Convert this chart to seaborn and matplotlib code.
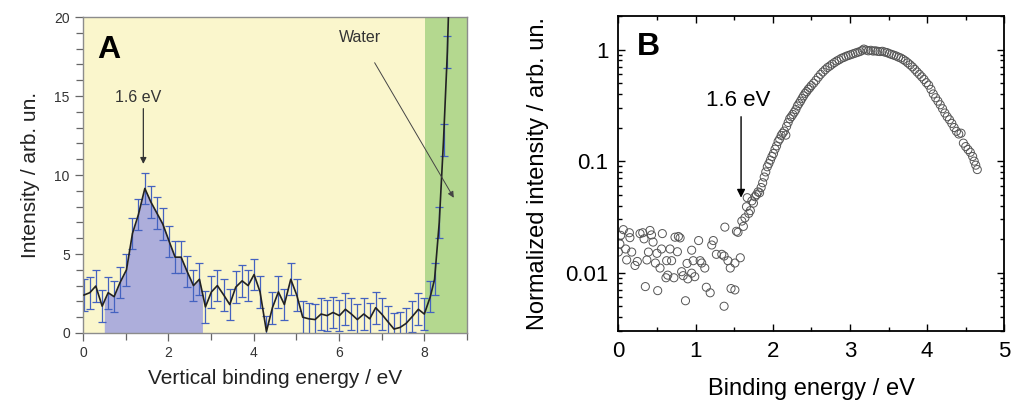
import numpy as np
import matplotlib
matplotlib.use("Agg")
import matplotlib.pyplot as plt
from matplotlib.ticker import MultipleLocator, NullFormatter
import seaborn as sns

# panel A: photoelectron spectrum with error bars
energy_a = [0.02, 0.16, 0.30, 0.45, 0.59, 0.73, 0.87, 1.02, 1.16, 1.30,
            1.45, 1.59, 1.73, 1.87, 2.02, 2.16, 2.30, 2.44, 2.59, 2.73,
            2.87, 3.01, 3.15, 3.30, 3.44, 3.58, 3.73, 3.87, 4.01, 4.15,
            4.30, 4.44, 4.58, 4.72, 4.87, 5.01, 5.15, 5.29, 5.44, 5.58,
            5.72, 5.86, 6.01, 6.15, 6.29, 6.43, 6.58, 6.72, 6.86, 7.00,
            7.15, 7.29, 7.43, 7.57, 7.72, 7.86, 8.00, 8.14, 8.24, 8.35,
            8.45, 8.54, 8.63]
intens_a = [2.4, 2.55, 2.97, 1.7, 2.55, 2.3, 3.2, 4.0, 6.3, 7.5,
            9.15, 8.3, 7.6, 6.9, 5.8, 4.8, 4.8, 3.9, 3.0, 3.4,
            1.65, 2.6, 3.0, 2.4, 1.8, 2.9, 3.3, 3.0, 3.7, 2.6,
            0.1, 1.6, 2.6, 1.8, 3.4, 2.4, 1.0, 0.9, 0.85, 1.2,
            1.1, 1.3, 1.1, 1.5, 1.2, 0.85, 1.2, 0.9, 1.6, 1.2,
            0.7, 0.25, 0.35, 0.6, 1.05, 1.5, 1.2, 2.3, 3.4, 7.0,
            12.2, 17.8, 26.0]
err_a = 1.0
peak_range = (0.5, 2.8)
water_start = 8.02

# panel B: normalized spectrum (log scale)
energy_b = [0.00, 0.02, 0.03, 0.065, 0.095, 0.108, 0.143, 0.15, 0.173, 0.216,
            0.246, 0.281, 0.316, 0.333, 0.35, 0.37, 0.39, 0.41, 0.43, 0.45,
            0.48, 0.50, 0.51, 0.54, 0.56, 0.57, 0.617, 0.626, 0.64, 0.67,
            0.69, 0.72, 0.734, 0.765, 0.778, 0.80, 0.82, 0.84, 0.87, 0.89,
            0.90, 0.95, 0.95, 0.97, 0.99, 1.04, 1.06, 1.08, 1.12, 1.14,
            1.19, 1.21, 1.23, 1.27, 1.34, 1.37, 1.37, 1.38, 1.42, 1.45,
            1.46, 1.51, 1.51, 1.53, 1.55, 1.58,
            1.60, 1.62, 1.64, 1.66, 1.67, 1.69, 1.71, 1.73, 1.75, 1.77,
            1.79, 1.81, 1.83, 1.85, 1.87, 1.89, 1.91, 1.93, 1.95, 1.97,
            1.99, 2.01, 2.03, 2.05, 2.07, 2.09, 2.11, 2.13, 2.15, 2.17,
            2.18, 2.20, 2.22, 2.24, 2.26, 2.28, 2.30, 2.32, 2.34, 2.36,
            2.38, 2.40, 2.42, 2.44, 2.46, 2.48, 2.50, 2.53, 2.56, 2.59,
            2.62, 2.65, 2.68, 2.71, 2.74, 2.77, 2.80, 2.83, 2.86, 2.89,
            2.92, 2.95, 2.98, 3.01, 3.04, 3.07, 3.10, 3.13, 3.16, 3.18,
            3.21, 3.24, 3.27, 3.30, 3.33, 3.36, 3.39, 3.42, 3.45, 3.48,
            3.51, 3.54, 3.57, 3.60, 3.63, 3.66, 3.69, 3.72, 3.75, 3.78,
            3.81, 3.84, 3.87, 3.90, 3.93, 3.96, 3.99, 4.02, 4.05, 4.08,
            4.11, 4.14, 4.17, 4.20, 4.23, 4.26, 4.29, 4.32, 4.35, 4.38,
            4.41, 4.44, 4.47, 4.50, 4.53, 4.56, 4.59, 4.61, 4.63, 4.65]
norm_b = [0.0153, 0.0181, 0.0216, 0.0243, 0.0163, 0.0130, 0.0228, 0.0206, 0.0153, 0.0116,
          0.0126, 0.0224, 0.0228, 0.0201, 0.0075, 0.0130, 0.0153, 0.0239, 0.0218, 0.0188,
          0.0122, 0.0149, 0.0069, 0.0110, 0.0163, 0.0224, 0.0090, 0.0128, 0.0095, 0.0163,
          0.0128, 0.0090, 0.0208, 0.0154, 0.0211, 0.0205, 0.0102, 0.0094, 0.0056, 0.0121,
          0.0088, 0.0099, 0.0159, 0.0128, 0.0092, 0.0194, 0.0128, 0.0122, 0.0110, 0.0074,
          0.0066, 0.0177, 0.0194, 0.0146, 0.0146, 0.0141, 0.0050, 0.0256, 0.0128, 0.0110,
          0.0072, 0.0122, 0.0070, 0.0235, 0.0230, 0.0136,
          0.029, 0.026, 0.031, 0.039, 0.047, 0.034, 0.036, 0.044, 0.042, 0.048,
          0.050, 0.053, 0.052, 0.058, 0.064, 0.072, 0.080, 0.089, 0.095, 0.102,
          0.110, 0.117, 0.128, 0.137, 0.150, 0.158, 0.170, 0.178, 0.186, 0.171,
          0.205, 0.222, 0.240, 0.250, 0.262, 0.275, 0.290, 0.312, 0.328, 0.345,
          0.365, 0.385, 0.405, 0.420, 0.440, 0.455, 0.475, 0.500, 0.530, 0.565,
          0.600, 0.630, 0.660, 0.690, 0.712, 0.740, 0.765, 0.790, 0.810, 0.835,
          0.850, 0.870, 0.885, 0.900, 0.915, 0.930, 0.945, 0.960, 0.985, 1.010,
          0.990, 0.975, 0.985, 0.970, 0.975, 0.965, 0.960, 0.965, 0.950, 0.940,
          0.920, 0.905, 0.890, 0.875, 0.855, 0.840, 0.815, 0.790, 0.760, 0.730,
          0.700, 0.665, 0.630, 0.600, 0.570, 0.540, 0.505, 0.480, 0.440, 0.400,
          0.370, 0.345, 0.320, 0.295, 0.270, 0.250, 0.235, 0.218, 0.200, 0.185,
          0.175, 0.178, 0.145, 0.135, 0.127, 0.120, 0.110, 0.100, 0.092, 0.084]

sns.set_theme(style="ticks")
plt.rcParams['font.family'] = ['Liberation Sans', 'DejaVu Sans']

fig = plt.figure(figsize=(10.13, 4.03), dpi=100)
ax_a = fig.add_axes([0.0819, 0.1737, 0.3791, 0.7841])
ax_b = fig.add_axes([0.6104, 0.1787, 0.3810, 0.7816])

# ---------- panel A ----------
ax_a.set_facecolor('#faf6cc')
ax_a.axvspan(water_start, 9, color='#b4d88f', lw=0, zorder=0)

xa = np.array(energy_a)
ya = np.array(intens_a)
inside = (xa > peak_range[0]) & (xa < peak_range[1])
fx = np.concatenate([[peak_range[0]], xa[inside], [peak_range[1]]])
fy = np.interp(fx, xa, ya)
ax_a.fill_between(fx, 0, fy, color='#adaedb', lw=0, zorder=1)

ax_a.errorbar(xa, ya, yerr=err_a, fmt='none', ecolor='#4462c0',
              elinewidth=0.9, capsize=3, capthick=0.9, zorder=2)
sns.lineplot(x=xa, y=ya, sort=False, color='#222222', linewidth=1.2,
             ax=ax_a, zorder=3)

ax_a.set_xlim(0, 9)
ax_a.set_ylim(0, 20)
ax_a.xaxis.set_major_locator(MultipleLocator(2))
ax_a.xaxis.set_minor_locator(MultipleLocator(1))
ax_a.yaxis.set_major_locator(MultipleLocator(5))
ax_a.yaxis.set_minor_locator(MultipleLocator(1))
ax_a.tick_params(which='both', direction='out', color='#666666',
                 labelcolor='#333333', labelsize=10, width=0.9)
ax_a.tick_params(which='major', length=6)
ax_a.tick_params(which='minor', length=5)
for sp in ax_a.spines.values():
    sp.set_color('#8c8c8c')
    sp.set_linewidth(1.0)
ax_a.set_xlabel('Vertical binding energy / eV', fontsize=15, color='#222222', labelpad=6)
ax_a.set_ylabel('Intensity / arb. un.', fontsize=15, color='#222222', labelpad=10)

ax_a.text(0.036, 0.87, 'A', transform=ax_a.transAxes, fontsize=23,
          fontweight='bold', color='black', ha='left', va='baseline')
ax_a.text(1.30, 14.9, '1.6 eV', fontsize=11.5, color='#333333',
          ha='center', va='center')
ax_a.annotate('', xy=(1.415, 10.7), xytext=(1.415, 14.2),
              arrowprops=dict(arrowstyle='-|>', color='#333333', lw=0.9,
                              mutation_scale=9, shrinkA=0, shrinkB=0))
ax_a.annotate('Water', xy=(8.69, 8.56), xytext=(6.49, 18.7),
              fontsize=11.5, color='#333333', ha='center', va='center',
              arrowprops=dict(arrowstyle='-|>', color='#444444', lw=0.7,
                              mutation_scale=9, shrinkA=12, shrinkB=0))

# ---------- panel B ----------
ax_b.set_facecolor('white')
sns.scatterplot(x=energy_b, y=norm_b, ax=ax_b, marker='o', s=34,
                facecolor='none', edgecolor='#555555', linewidth=0.7)
ax_b.set_yscale('log')
ax_b.set_xlim(0, 5)
ax_b.set_ylim(0.003, 2.0)
ax_b.set_yticks([0.01, 0.1, 1], ['0.01', '0.1', '1'])
ax_b.yaxis.set_minor_formatter(NullFormatter())
ax_b.xaxis.set_major_locator(MultipleLocator(1))
ax_b.xaxis.set_minor_locator(MultipleLocator(0.5))
ax_b.tick_params(which='both', direction='in', top=True, right=True,
                 color='black', labelcolor='black', labelsize=16, width=1.0)
ax_b.tick_params(which='major', length=5, pad=7)
ax_b.tick_params(which='minor', length=3)
for sp in ax_b.spines.values():
    sp.set_color('black')
    sp.set_linewidth(1.3)
ax_b.set_xlabel('Binding energy / eV', fontsize=17, color='black', labelpad=12)
ax_b.set_ylabel('Normalized intensity / arb. un.', fontsize=17, color='black', labelpad=12)

ax_b.text(0.048, 0.876, 'B', transform=ax_b.transAxes, fontsize=23,
          fontweight='bold', color='black', ha='left', va='baseline')
ax_b.text(1.55, 0.35, '1.6 eV', fontsize=16, color='black',
          ha='center', va='center')
ax_b.annotate('', xy=(1.59, 0.047), xytext=(1.59, 0.25),
              arrowprops=dict(arrowstyle='-|>', color='black', lw=1.0,
                              mutation_scale=12, shrinkA=0, shrinkB=0))

fig.savefig('out.png', dpi=100)
